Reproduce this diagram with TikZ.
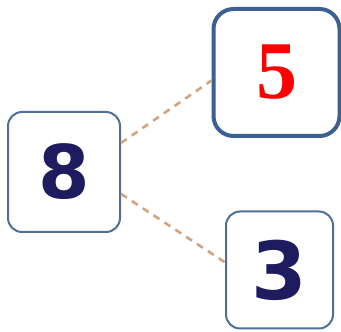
\documentclass[tikz,border=0pt]{standalone}
\usepackage{xcolor}
\usepackage{fontspec}
\usepackage{tikz}
\usetikzlibrary{positioning}
\newfontfamily\digitfont{DejaVu Sans Bold}
\font\answerfont = "Liberation Serif/B" at 82pt
\definecolor{boxblue}{HTML}{3C6091}
\definecolor{softblue}{HTML}{4F6F96}
\definecolor{inknavy}{HTML}{1E1C5E}
\definecolor{dashtan}{HTML}{D4A27C}
\tikzset{
number box/.style = { rectangle, draw = softblue, line width = 2pt, fill = white, rounded corners = 14pt, text = inknavy, font = \digitfont\fontsize{74}{74}\selectfont },
answer box/.style = { rectangle, draw = boxblue, line width = 4pt, fill = white, rounded corners = 20pt, text = red, font = \answerfont },
split line/.style = { draw = dashtan, line width = 2.6pt, dash pattern = on 7pt off 6pt },
}

\begin{document}
\begin{tikzpicture}[x = 1pt, y = 1pt]
      \useasboundingbox (0, 0) rectangle (341, 332);
      \node[number box, minimum width = 112pt, minimum height = 120pt] (whole) at (64, 160) {8};
      \node[answer box, minimum width = 126pt, minimum height = 127pt] (top) at (276.5, 259.5) {5};
      \node[number box, minimum width = 107pt, minimum height = 117pt, font = \digitfont\fontsize{80}{80}\selectfont] (bottom) at (279.5, 62) {3};
      \draw[split line] (whole.27) -- (top.187);
      \draw[split line] (whole.-21) -- (bottom.172);
    \end{tikzpicture}
\end{document}
